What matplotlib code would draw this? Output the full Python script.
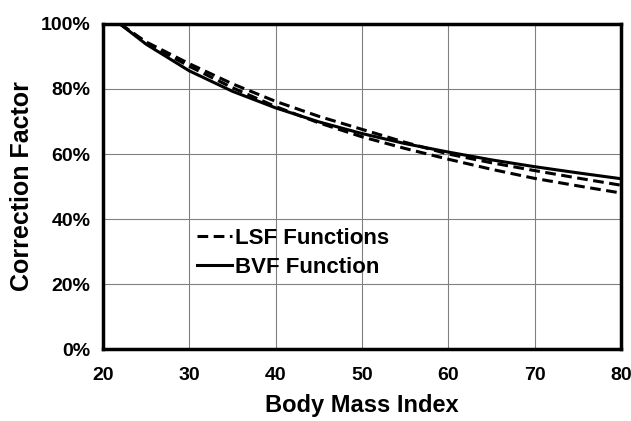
import matplotlib.pyplot as plt
from matplotlib.ticker import FuncFormatter

plt.rcParams['font.family'] = ['Liberation Sans', 'DejaVu Sans']
plt.rcParams['font.weight'] = 'bold'

bmi = [22, 25, 30, 35, 40, 45, 50, 55, 60, 65, 70, 75, 80]
bvf = [100, 93.8, 85.6, 79.3, 74.2, 69.9, 66.3, 63.2, 60.6, 58.2, 56.1, 54.2, 52.4]
lsf_a = [100, 94.5, 87.8, 81.6, 76.2, 71.6, 67.6, 63.6, 60.0, 57.3, 54.9, 52.6, 50.4]
lsf_b = [100, 94.2, 87.0, 80.4, 74.6, 69.6, 65.3, 61.7, 58.4, 55.3, 52.5, 50.2, 48.0]

fig = plt.figure(figsize=(6.31, 4.21), dpi=100)
ax = fig.add_axes([0.163, 0.171, 0.821, 0.772])

dash = (0, (3.5, 1.8))
ax.plot(bmi, lsf_a, color='black', lw=2.2, ls=dash, label='LSF Functions')
ax.plot(bmi, lsf_b, color='black', lw=2.2, ls=dash)
ax.plot(bmi, bvf, color='black', lw=2.2, label='BVF Function')

ax.set_xlim(20, 80)
ax.set_ylim(0, 100)
ax.set_xticks(range(20, 81, 10))
ax.set_yticks(range(0, 101, 20))
ax.yaxis.set_major_formatter(FuncFormatter(lambda v, p: f'{v:.0f}%'))
ax.grid(True, color='#808080', lw=0.8)
ax.tick_params(length=0, labelsize=14)
ax.tick_params(axis='x', pad=13)
ax.tick_params(axis='y', pad=9)
for s in ax.spines.values():
    s.set_linewidth(2.5)

ax.set_xlabel('Body Mass Index', fontsize=17, fontweight='bold', labelpad=7)
ax.set_ylabel('Correction Factor', fontsize=18, fontweight='bold', labelpad=5)

ax.legend(loc='lower left', bbox_to_anchor=(0.16, 0.185), frameon=False, fontsize=16,
          handlelength=1.6, handletextpad=0.1, labelspacing=0.35, borderpad=0)

fig.savefig('out.png', dpi=100)
